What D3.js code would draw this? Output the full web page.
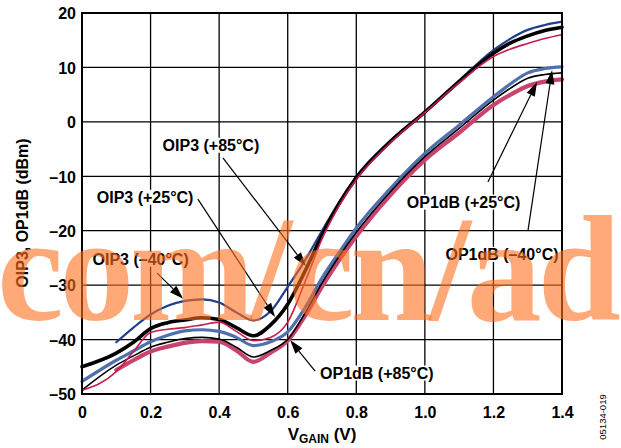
<!DOCTYPE html>
<html><head><meta charset="utf-8">
<script src="https://cdn.jsdelivr.net/npm/d3@7"></script>
<style>html,body{margin:0;padding:0;background:#fff;}svg{display:block;}</style>
</head><body>
<svg id="chart" width="621" height="448"></svg>
<script>
// ---- data ----
const vGain = [0,0.1,0.15,0.2,0.25,0.3,0.35,0.4,0.45,0.5,0.55,0.6,0.65,0.7,0.75,0.8,0.9,1.0,1.1,1.2,1.25,1.3,1.35,1.4];
const oip3M40 = [null,-40.5,-37.8,-35.4,-33.8,-32.9,-32.6,-33.2,-35.0,-36.5,-34.8,-30.3,-25.5,-20.0,-14.8,-10.0,-3.4,1.8,7.6,13.2,15.3,16.9,17.8,18.4];
const oip3P25 = [-45.0,-42.5,-40.5,-38.0,-36.9,-36.4,-36.0,-36.3,-37.8,-39.3,-37.3,-33.5,-27.5,-20.8,-15.0,-10.3,-3.6,1.8,7.4,12.6,14.5,15.8,16.8,17.4];
const oip3P85 = [-49.3,-45.9,-42.2,-38.7,-38.1,-37.8,-37.3,-36.8,-38.5,-40.2,-39.6,-36.8,-29.5,-21.5,-15.4,-10.6,-3.8,1.7,7.2,12.0,13.4,14.4,15.3,16.0];
const op1dbM40 = [-47.7,-43.8,-42.1,-40.4,-39.2,-38.4,-38.2,-38.5,-39.6,-41.1,-40.4,-38.6,-34.2,-28.7,-24.0,-19.5,-12.2,-5.8,-0.6,4.6,7.0,9.0,9.8,10.1];
const op1dbP25 = [-49.3,-44.7,-43.0,-41.4,-40.5,-39.8,-39.6,-39.9,-41.4,-43.2,-42.0,-40.0,-35.2,-29.6,-24.7,-20.3,-12.8,-6.4,-1.2,4.0,6.2,8.0,8.7,9.0];
const op1dbP85 = [null,-45.6,-43.8,-42.2,-41.3,-40.6,-40.3,-40.4,-42.0,-44.1,-42.4,-40.2,-35.7,-30.3,-25.4,-21.0,-13.4,-7.0,-2.0,3.1,5.0,6.6,7.4,7.8];

const xTicks = [0,0.2,0.4,0.6,0.8,1.0,1.2,1.4];
const yTicks = [-50,-40,-30,-20,-10,0,10,20];

// annotations: label centre (x,y), arrow start, arrow tip — in data units
const annLabels = ["OIP3 (+85°C)","OIP3 (+25°C)","OIP3 (–40°C)","OP1dB (+85°C)","OP1dB (+25°C)","OP1dB (–40°C)"];
const annText  = [[0.376,-4.25],[0.184,-13.8],[0.171,-25.2],[0.86,-46.1],[1.113,-14.7],[1.225,-24.3]];
const annFrom  = [[0.411,-6.6],[0.338,-14.2],[0.219,-27.8],[0.68,-45.8],[1.184,-11.05],[1.301,-19.9]];
const annTip   = [[0.653,-26.5],[0.563,-35.85],[0.295,-32.5],[0.607,-40.1],[1.327,7.3],[1.371,9.5]];

// ---- chart ----
const svg = d3.select("#chart");
const L=82,R=562,T=13,B=394;
const x = d3.scaleLinear().domain([0,1.4]).range([L,R]);
const y = d3.scaleLinear().domain([-50,20]).range([B,T]);
const fSans = "'Liberation Sans', Arial, Helvetica, sans-serif";

// grid
const grid = svg.append("g").attr("stroke","#000").attr("stroke-width",1.3);
xTicks.slice(1,-1).forEach(v=>grid.append("line").attr("x1",x(v)).attr("x2",x(v)).attr("y1",T).attr("y2",B));
yTicks.slice(1,-1).forEach(v=>grid.append("line").attr("y1",y(v)).attr("y2",y(v)).attr("x1",L).attr("x2",R));

// axes labels
const fmtY = d => d<0 ? "\u2013"+(-d) : String(d);
const fmtX = d => d===0 ? "0" : d3.format(".1f")(d);
const ya = svg.append("g").attr("transform",`translate(${L},0)`)
  .call(d3.axisLeft(y).tickValues(yTicks).tickSize(0).tickPadding(6).tickFormat(fmtY));
ya.select(".domain").remove();
ya.selectAll("text").attr("font-family",fSans).attr("font-weight","bold").attr("font-size",16).attr("fill","#000").attr("dy","0.36em");
const xa = svg.append("g").attr("transform",`translate(0,${B})`)
  .call(d3.axisBottom(x).tickValues(xTicks).tickSize(0).tickFormat(fmtX));
xa.select(".domain").remove();
xa.selectAll("text").attr("font-family",fSans).attr("font-weight","bold").attr("font-size",16).attr("fill","#000").attr("y",24).attr("dy",0);

// curves
const series = [
  {v:op1dbP85, c:"#c8446e", w:4.2},
  {v:op1dbM40, c:"#4f6fae", w:3.2},
  {v:op1dbP25, c:"#000",    w:1.6},
  {v:oip3M40,  c:"#233f8c", w:2.2},
  {v:oip3P25,  c:"#000",    w:3.6},
  {v:oip3P85,  c:"#c41e4f", w:1.6},
];
const line = d3.line().defined(d=>d[1]!==null).x(d=>x(d[0])).y(d=>y(d[1])).curve(d3.curveMonotoneX);
series.forEach(s=>{
  svg.append("path").datum(vGain.map((g,i)=>[g,s.v[i]]))
    .attr("d",line).attr("fill","none").attr("stroke",s.c).attr("stroke-width",s.w)
    .attr("stroke-linejoin","round").attr("stroke-linecap","round");
});

// frame
svg.append("rect").attr("x",L).attr("y",T).attr("width",R-L).attr("height",B-T)
  .attr("fill","none").attr("stroke","#000").attr("stroke-width",2);

// annotations
annLabels.forEach((t,i)=>{
  const g = svg.append("g");
  const tx = g.append("text").attr("x",x(annText[i][0])).attr("y",y(annText[i][1]))
    .attr("text-anchor","middle").attr("dy","0.36em")
    .attr("font-family",fSans).attr("font-weight","bold").attr("font-size",16).text(t);
  const bb = tx.node().getBBox();
  g.insert("rect","text").attr("x",bb.x-2).attr("y",bb.y+1).attr("width",bb.width+4).attr("height",bb.height-2).attr("fill","#fff");
  const x1=x(annFrom[i][0]), y1=y(annFrom[i][1]), x2=x(annTip[i][0]), y2=y(annTip[i][1]);
  const dx=x2-x1, dy=y2-y1, len=Math.hypot(dx,dy), ux=dx/len, uy=dy/len;
  const hl=14, hw=4.5;
  const bx=x2-ux*hl, by=y2-uy*hl;
  svg.append("line").attr("x1",x1).attr("y1",y1).attr("x2",bx).attr("y2",by).attr("stroke","#000").attr("stroke-width",1.2);
  svg.append("path").attr("d",`M${x2},${y2}L${bx-uy*hw},${by+ux*hw}L${bx+uy*hw},${by-ux*hw}Z`).attr("fill","#000");
});

// axis titles
svg.append("text").attr("transform","translate(28,213) rotate(-90)").attr("text-anchor","middle")
  .attr("font-family",fSans).attr("font-weight","bold").attr("font-size",16).text("OIP3, OP1dB (dBm)");
const xt = svg.append("text").attr("x",(L+R)/2).attr("y",440).attr("text-anchor","middle")
  .attr("font-family",fSans).attr("font-weight","bold").attr("font-size",17);
xt.append("tspan").text("V");
xt.append("tspan").attr("font-size",12).attr("dy",3).text("GAIN");
xt.append("tspan").attr("dy",-3).text(" (V)");

svg.append("text").attr("transform","translate(606,417) rotate(-90)").attr("text-anchor","middle")
  .attr("font-family",fSans).attr("font-size",9.5).text("05134-019");

// watermark
svg.append("text").attr("x",-3).attr("y",320).attr("font-family","'Liberation Serif', 'Times New Roman', serif")
  .attr("font-weight","bold").attr("font-size",150).attr("fill","rgb(255,110,30)").attr("fill-opacity",0.6)
  .attr("textLength",624).attr("lengthAdjust","spacing").text("com/cn/ad");
</script>
</body></html>
